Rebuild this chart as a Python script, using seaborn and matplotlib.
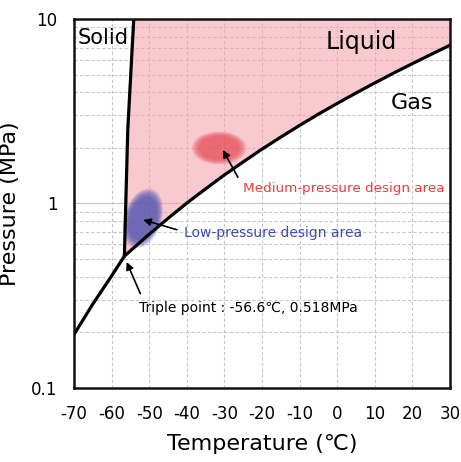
import numpy as np
import pandas as pd
import matplotlib
matplotlib.use("Agg")
import matplotlib.pyplot as plt
from matplotlib.patches import Ellipse
import seaborn as sns

# CO2 phase boundaries (temperature degC, pressure MPa)
sub_temp = [-70, -65, -60, -56.6]
sub_pres = [0.195, 0.285, 0.405, 0.518]

vap_temp = [-56.6, -50, -45, -40, -35, -30, -25, -20, -15, -10, -5, 0, 5, 10, 15, 20, 25, 30]
vap_pres = [0.518, 0.682, 0.83, 1.005, 1.20, 1.428, 1.68, 1.97, 2.29, 2.649, 3.05, 3.485,
            3.97, 4.502, 5.09, 5.729, 6.43, 7.214]

melt_temp = [-56.6, -55.7, -54.8, -54.1]
melt_pres = [0.518, 2.5, 5.5, 10.0]

# design areas: centre (degC, MPa)
area_names = ["Medium-pressure design area", "Low-pressure design area"]
area_temp = [-31.4, -51.7]
area_pres = [2.0, 0.83]

triple_temp = -56.6
triple_pres = 0.518

x_ticks = [-70, -60, -50, -40, -30, -20, -10, 0, 10, 20, 30]
y_ticks = [0.1, 1, 10]
y_tick_labels = ["0.1", "1", "10"]

sns.set_style("white")
plt.rcParams["font.family"] = ["DejaVu Sans"]
plt.rcParams["text.color"] = "black"
plt.rcParams["axes.labelcolor"] = "black"

fig = plt.figure(figsize=(4.61, 4.62), dpi=100)
ax = fig.add_axes([0.1605, 0.1602, 0.8156, 0.7987])
ax.set_yscale("log")
ax.set_xlim(-70, 30)
ax.set_ylim(0.1, 10)

# liquid region (pink)
liq_t = list(melt_temp) + [30] + vap_temp[::-1]
liq_p = list(melt_pres) + [10] + vap_pres[::-1]
ax.fill(liq_t, liq_p, color="#f4a0a8", alpha=0.55, lw=0, zorder=1)

# grid
grid_kw = dict(color="#c8c8c8", lw=0.8)
ax.xaxis.grid(True, which="major", ls=(0, (3, 2)), **grid_kw)
ax.yaxis.grid(True, which="major", ls="-", **grid_kw)
ax.yaxis.grid(True, which="minor", ls=(0, (3, 2)), **grid_kw)
ax.set_axisbelow(True)

# boundary curves
curves = pd.concat([
    pd.DataFrame({"T": sub_temp, "P": sub_pres, "seg": "sub"}),
    pd.DataFrame({"T": vap_temp, "P": vap_pres, "seg": "vap"}),
    pd.DataFrame({"T": melt_temp, "P": melt_pres, "seg": "melt"}),
])
for seg, d in curves.groupby("seg"):
    sns.lineplot(data=d, x="T", y="P", ax=ax, color="black", lw=2.3,
                 sort=False, estimator=None, zorder=4)

# blurred design-area ellipses (drawn in axes fraction)
fig.canvas.draw()
to_axes = ax.transAxes.inverted()
area_cols = ["#e8505a", "#4a4fb0"]
area_size = [(48 / 376, 29 / 369, 0), (33 / 376, 54 / 369, -17)]
for t, p, c, (w, h, ang) in zip(area_temp, area_pres, area_cols, area_size):
    cx, cy = to_axes.transform(ax.transData.transform((t, p)))
    for s in np.linspace(1.14, 0.82, 9):
        ax.add_patch(Ellipse((cx, cy), w * s, h * s, angle=ang, transform=ax.transAxes,
                             color=c, alpha=0.15, lw=0, zorder=3))

# region labels
ax.text(-62.3, 7.9, "Solid", fontsize=15, ha="center", va="center", zorder=6)
ax.text(6.5, 7.5, "Liquid", fontsize=17, ha="center", va="center", zorder=6)
ax.text(19.9, 3.5, "Gas", fontsize=16, ha="center", va="center", zorder=6)

arrow = dict(arrowstyle="-|>", color="black", lw=1.2, mutation_scale=11, shrinkA=3, shrinkB=0)
ax.annotate(area_names[0], xy=(-30.4, 1.95), xytext=(-25.0, 1.21), fontsize=9.7,
            color="#f03c3c", ha="left", va="center", zorder=6,
            arrowprops=dict(arrow, relpos=(0, 0.6)))
ax.annotate(area_names[1], xy=(-51.6, 0.815), xytext=(-40.7, 0.69), fontsize=10,
            color="#3c4cb0", ha="left", va="center", zorder=6,
            arrowprops=dict(arrow, relpos=(0, 0.6)))
ax.annotate("Triple point : -56.6\u2103, 0.518MPa", xy=(triple_temp + 0.6, triple_pres * 0.93),
            xytext=(-52.7, 0.272), fontsize=10, color="black", ha="left", va="center",
            zorder=6, arrowprops=dict(arrow, relpos=(0.02, 1.0)))

# axes styling
ax.set_xticks(x_ticks)
ax.set_xticklabels([str(v) for v in x_ticks])
ax.set_yticks(y_ticks)
ax.set_yticklabels(y_tick_labels)
ax.yaxis.set_minor_formatter(plt.NullFormatter())
ax.tick_params(axis="both", which="major", direction="in", length=3, width=1,
               labelsize=12, pad=12, colors="black")
ax.tick_params(axis="y", which="minor", length=0)
for sp in ax.spines.values():
    sp.set_linewidth(1.8)
    sp.set_color("#111111")
    sp.set_zorder(7)

ax.set_xlabel("Temperature (\u2103)", fontsize=16, labelpad=8)
ax.set_ylabel("Pressure (MPa)", fontsize=16, labelpad=8)

fig.savefig("out.png", dpi=100)
plt.close(fig)
